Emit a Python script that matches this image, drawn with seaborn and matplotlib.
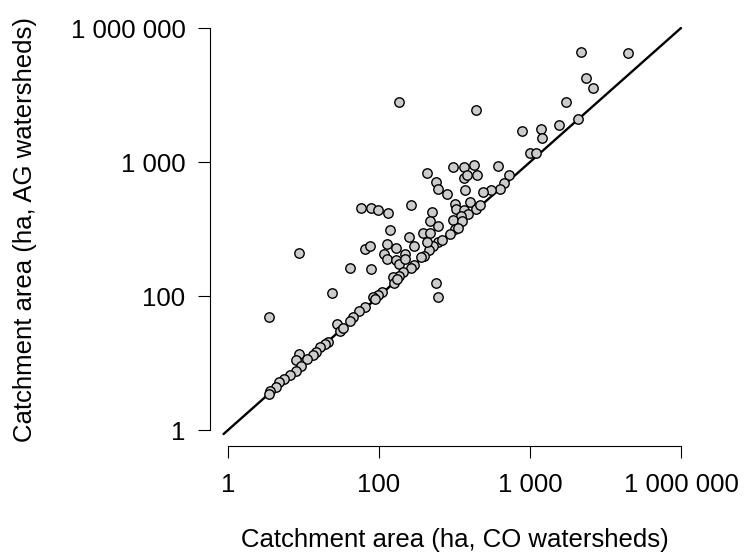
import matplotlib
matplotlib.use("Agg")
import matplotlib.pyplot as plt
import seaborn as sns
import pandas as pd

# Axis ticks (positions in log10 units) and their printed labels
tick_positions = [0, 1, 2, 3]
tick_labels = ["1", "100", "1 000", "1 000 000"]

# Catchment areas (log10 units of the plotted axes)
co_log = [2.34, 2.65, 2.37, 2.42, 2.24, 2.19, 2.32, 1.95, 2.07, 2.08, 2.00, 2.04,
          1.13, 1.64, 1.32, 1.38, 1.39, 1.45, 1.49, 1.56, 1.63, 1.79, 1.65, 1.56,
          1.58, 1.57, 1.86, 1.83, 1.80, 1.74, 1.69, 1.50, 1.51, 1.56, 1.60, 1.64,
          1.67, 1.59, 1.54, 1.49, 1.55, 1.50, 1.52, 1.39, 1.42, 1.36, 1.33, 1.30,
          1.28, 1.47, 0.88, 0.95, 0.99, 1.06, 1.21, 1.35, 1.34, 1.39, 1.07, 1.29,
          1.34, 1.20, 1.32, 1.05, 1.11, 1.23, 0.91, 0.94, 1.03, 1.05, 1.11, 1.17,
          1.13, 1.17, 1.23, 1.21, 1.16, 1.13, 1.09, 1.10, 1.12, 1.38, 1.39, 0.81,
          0.95, 0.47, 0.69, 0.27, 1.02, 0.99, 0.96, 0.97, 0.91, 0.87, 0.83, 0.81,
          0.72, 0.74, 0.76, 0.66, 0.64, 0.61, 0.58, 0.56, 0.52, 0.47, 0.45, 0.48,
          0.45, 0.41, 0.37, 0.34, 0.32, 0.28, 0.27]
ag_log = [2.82, 2.81, 2.63, 2.55, 2.45, 2.28, 2.32, 2.23, 2.25, 2.18, 2.07, 2.07,
          2.45, 2.39, 1.92, 1.85, 1.80, 1.76, 1.96, 1.96, 1.98, 1.97, 1.90, 1.88,
          1.90, 1.79, 1.90, 1.84, 1.80, 1.79, 1.78, 1.69, 1.65, 1.64, 1.70, 1.65,
          1.68, 1.61, 1.60, 1.57, 1.56, 1.50, 1.51, 1.40, 1.42, 1.37, 1.34, 1.30,
          1.29, 1.46, 1.66, 1.66, 1.64, 1.62, 1.68, 1.63, 1.56, 1.52, 1.49, 1.47,
          1.47, 1.44, 1.40, 1.39, 1.36, 1.37, 1.35, 1.37, 1.31, 1.28, 1.27, 1.31,
          1.24, 1.28, 1.23, 1.21, 1.18, 1.15, 1.14, 1.10, 1.13, 1.10, 0.99, 1.21,
          1.20, 1.32, 1.02, 0.84, 1.03, 1.01, 0.99, 0.98, 0.92, 0.89, 0.84, 0.81,
          0.79, 0.74, 0.76, 0.66, 0.64, 0.62, 0.58, 0.56, 0.53, 0.57, 0.52, 0.48,
          0.44, 0.41, 0.38, 0.36, 0.32, 0.29, 0.27]

# 1:1 reference line extent (log10 units)
line_range = [-0.03, 3.0]

df = pd.DataFrame({"co": co_log, "ag": ag_log})

sns.set_style("white")
plt.rcParams["font.family"] = ["Liberation Sans", "DejaVu Sans"]
plt.rcParams["text.color"] = "black"
plt.rcParams["axes.labelcolor"] = "black"

fig = plt.figure(figsize=(7.45, 5.58), dpi=100)
ax = fig.add_axes([0.2818, 0.2005, 0.6566, 0.7781])

sns.lineplot(x=line_range, y=line_range, ax=ax, color="black", linewidth=1.7)
sns.scatterplot(data=df, x="co", y="ag", ax=ax, s=46, color="#CCCCCC",
                edgecolor="black", linewidth=1.0, zorder=3)

ax.set_xlim(-0.12, 3.12)
ax.set_ylim(-0.12, 3.12)
ax.set_xticks(tick_positions)
ax.set_xticklabels(tick_labels)
ax.set_yticks(tick_positions)
ax.set_yticklabels(tick_labels)

for side in ["top", "right"]:
    ax.spines[side].set_visible(False)
for side in ["left", "bottom"]:
    ax.spines[side].set_bounds(0, 3)
    ax.spines[side].set_color("black")
    ax.spines[side].set_linewidth(0.8)

ax.tick_params(axis="both", direction="out", length=8.6, width=0.8,
               colors="black", labelcolor="black", labelsize=18.5, pad=9,
               bottom=True, left=True)
ax.tick_params(axis="x", pad=11)

ax.set_xlabel("Catchment area (ha, CO watersheds)", fontsize=18.5, color="black")
ax.set_ylabel("Catchment area (ha, AG watersheds)", fontsize=18.5, color="black")
ax.xaxis.set_label_coords(0.5, -0.216)
ax.yaxis.set_label_coords(-0.378, 0.5)
ax.xaxis.label.set_va("center")
ax.yaxis.label.set_va("center")

fig.savefig("out.png", dpi=100)
